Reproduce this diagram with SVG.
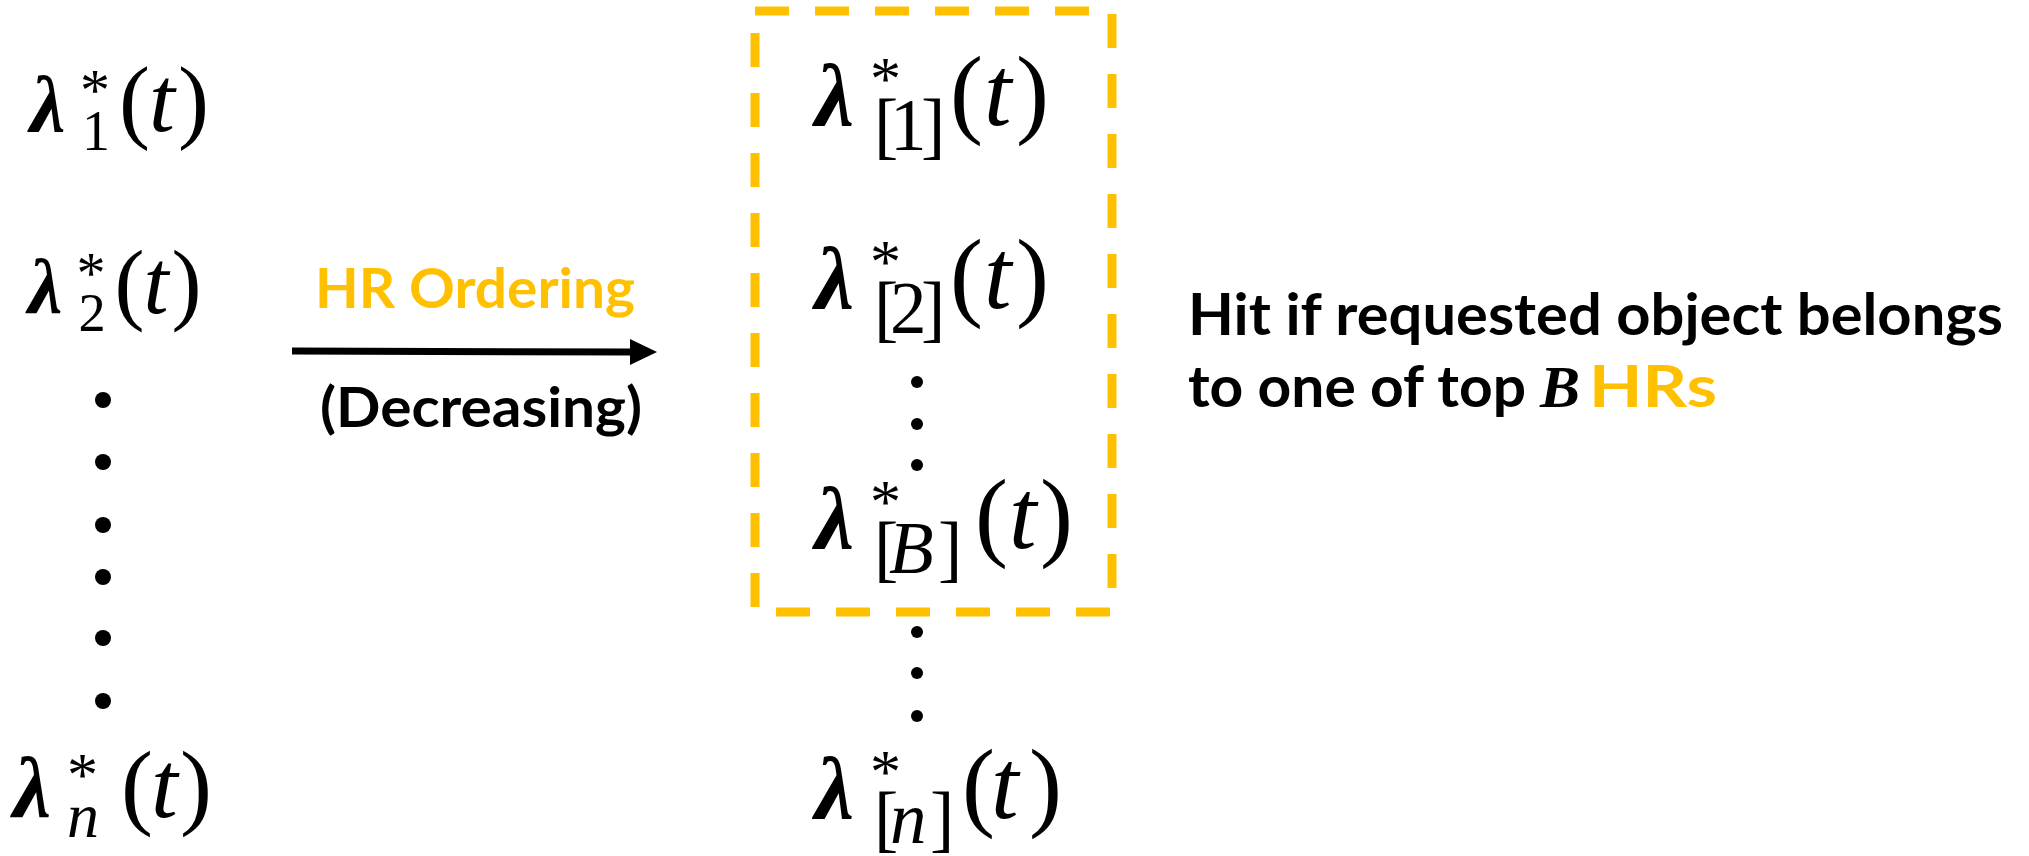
<svg xmlns="http://www.w3.org/2000/svg" width="2029" height="856" viewBox="0 0 2029 856">
<style>
.m{font-family:"Liberation Serif","Times New Roman",serif;fill:#000}
.lam{font-family:"Liberation Serif","Times New Roman",serif;font-weight:bold;font-style:italic}
.it{font-style:italic}
.sans{font-family:Lato,"Open Sans","Liberation Sans",sans-serif;font-weight:bold}
.org{fill:#FFC000}
.dot{fill:#000}
</style>
<rect width="2029" height="856" fill="#fff"/>

<!-- left column -->
<g id="lam1" class="m" transform="translate(32,131)">
<text class="lam" x="-2" y="0" font-size="80">λ</text>
<text x="48" y="-21" font-size="60">*</text>
<text x="50" y="19" font-size="56">1</text>
<text x="87" y="0" font-size="93">(</text>
<text class="it" x="117" y="0" font-size="93">t</text>
<text x="146" y="0" font-size="93">)</text>
</g>
<g id="lam2" class="m" transform="translate(30,313) scale(0.97)">
<text class="lam" x="-2" y="0" font-size="80">λ</text>
<text x="48" y="-21" font-size="60">*</text>
<text x="50" y="19" font-size="56">2</text>
<text x="87" y="0" font-size="93">(</text>
<text class="it" x="117" y="0" font-size="93">t</text>
<text x="146" y="0" font-size="93">)</text>
</g>
<g id="leftdots">
<circle class="dot" cx="103" cy="400" r="8"/>
<circle class="dot" cx="103" cy="462" r="8"/>
<circle class="dot" cx="103" cy="525" r="8"/>
<circle class="dot" cx="103" cy="577" r="8"/>
<circle class="dot" cx="103" cy="638" r="8"/>
<circle class="dot" cx="103" cy="701" r="8"/>
</g>
<g id="lamn" class="m" transform="translate(15,817)">
<text class="lam" x="-2" y="0" font-size="86">λ</text>
<text x="52" y="-22" font-size="62">*</text>
<text class="it" x="52" y="20" font-size="64">n</text>
<text x="106" y="0" font-size="96">(</text>
<text class="it" x="136" y="0" font-size="96">t</text>
<text x="165" y="0" font-size="96">)</text>
</g>

<!-- arrow -->
<g id="connectors">
<line x1="292" y1="351" x2="634" y2="352" stroke="#000" stroke-width="7"/>
<polygon points="630,339 657,352 630,365" fill="#000"/>
</g>
<g id="arrowlabels">
<text class="sans org" x="315" y="308" font-size="56" textLength="320" lengthAdjust="spacingAndGlyphs">HR Ordering</text>
<text class="sans" x="320" y="427" font-size="56" textLength="322" lengthAdjust="spacingAndGlyphs">(Decreasing)</text>
</g>

<!-- top-B box -->
<g id="topBox">
<rect x="755" y="11" width="357" height="601" fill="none" stroke="#FFC000" stroke-width="9" stroke-dasharray="34 26"/>
</g>

<!-- middle column -->
<g id="lamS1" class="m">
<text class="lam" x="815" y="125" font-size="88">λ</text>
<text x="870" y="99" font-size="62">*</text>
<text x="874" y="150" font-size="73">[</text>
<text x="890" y="150" font-size="73">1</text>
<text x="921" y="150" font-size="73">]</text>
<text x="950" y="125" font-size="99">(</text>
<text class="it" x="984" y="125" font-size="99">t</text>
<text x="1016" y="125" font-size="99">)</text>
</g>
<g id="lamS2" class="m">
<text class="lam" x="815" y="308" font-size="88">λ</text>
<text x="870" y="282" font-size="62">*</text>
<text x="874" y="333" font-size="73">[</text>
<text x="890" y="333" font-size="73">2</text>
<text x="921" y="333" font-size="73">]</text>
<text x="950" y="308" font-size="99">(</text>
<text class="it" x="984" y="308" font-size="99">t</text>
<text x="1016" y="308" font-size="99">)</text>
</g>
<g id="middots1">
<circle class="dot" cx="917" cy="382" r="6"/>
<circle class="dot" cx="917" cy="424" r="6"/>
<circle class="dot" cx="917" cy="465" r="6"/>
</g>
<g id="lamSB" class="m">
<text class="lam" x="815" y="548" font-size="88">λ</text>
<text x="870" y="522" font-size="62">*</text>
<text x="874" y="573" font-size="73">[</text>
<text class="it" x="889" y="573" font-size="73">B</text>
<text x="938" y="573" font-size="73">]</text>
<text x="975" y="548" font-size="99">(</text>
<text class="it" x="1009" y="548" font-size="99">t</text>
<text x="1040" y="548" font-size="99">)</text>
</g>
<g id="middots2">
<circle class="dot" cx="917" cy="632" r="6"/>
<circle class="dot" cx="917" cy="673" r="6"/>
<circle class="dot" cx="917" cy="716" r="6"/>
</g>
<g id="lamSn" class="m">
<text class="lam" x="815" y="818" font-size="88">λ</text>
<text x="870" y="792" font-size="62">*</text>
<text x="874" y="843" font-size="73">[</text>
<text class="it" x="890" y="843" font-size="73">n</text>
<text x="930" y="843" font-size="73">]</text>
<text x="962" y="818" font-size="99">(</text>
<text class="it" x="991" y="818" font-size="99">t</text>
<text x="1029" y="818" font-size="99">)</text>
</g>

<!-- hit text -->
<g id="hitText">
<text class="sans" x="1188" y="335" font-size="58" textLength="815" lengthAdjust="spacingAndGlyphs">Hit if requested object belongs</text>
<text class="sans" x="1188" y="407" font-size="58" textLength="338" lengthAdjust="spacingAndGlyphs">to one of top</text>
<text x="1540" y="407" font-size="60" font-family="Liberation Serif,serif" font-style="italic" font-weight="bold">B</text>
<text class="sans org" x="1589" y="407" font-size="58" textLength="128" lengthAdjust="spacingAndGlyphs">HRs</text>
</g>
</svg>
